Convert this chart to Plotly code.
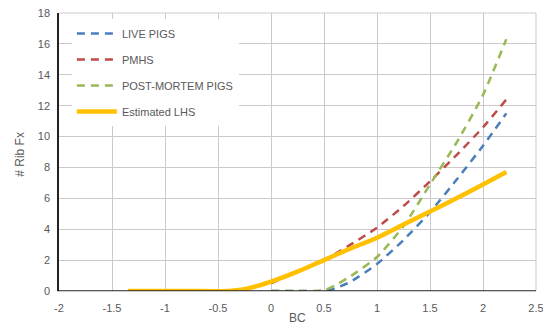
import plotly.graph_objects as go

# BC values and fracture counts
live_x = [0.0, 0.25, 0.5, 0.6, 0.75, 1.0, 1.25, 1.5, 1.75, 2.0, 2.22]
live_y = [0.0, 0.0, 0.0, 0.15, 0.6, 1.75, 3.3, 5.1, 7.2, 9.4, 11.5]

pmhs_x = [0.0, 0.2, 0.5, 0.75, 1.0, 1.25, 1.5, 1.75, 2.0, 2.22]
pmhs_y = [0.5, 1.1, 2.0, 3.0, 4.1, 5.5, 7.1, 8.8, 10.6, 12.4]

pm_x = [0.0, 0.25, 0.5, 0.6, 0.75, 1.0, 1.25, 1.5, 1.75, 2.0, 2.22]
pm_y = [0.0, 0.0, 0.05, 0.35, 0.95, 2.2, 4.2, 6.9, 9.6, 12.7, 16.3]

lhs_x = [-1.35, -0.8, -0.4, -0.25, -0.1, 0.0, 0.25, 0.5, 0.75, 1.0, 1.25, 1.5, 1.75, 2.0, 2.22]
lhs_y = [0.0, 0.0, 0.0, 0.12, 0.38, 0.6, 1.25, 2.0, 2.75, 3.45, 4.3, 5.15, 6.0, 6.9, 7.7]

x_ticks = [-2, -1.5, -1, -0.5, 0, 0.5, 1, 1.5, 2, 2.5]
x_tick_labels = ["-2", "-1.5", "-1", "-0.5", "0", "0.5", "1", "1.5", "2", "2.5"]
y_ticks = [0, 2, 4, 6, 8, 10, 12, 14, 16, 18]

names = ["LIVE PIGS", "PMHS", "POST-MORTEM PIGS", "Estimated LHS"]
colors = ["#4a7ebb", "#be4b48", "#98b954", "#ffc000"]

fig = go.Figure()
series = [(live_x, live_y), (pmhs_x, pmhs_y), (pm_x, pm_y), (lhs_x, lhs_y)]
for i, ((xs, ys), name, c) in enumerate(zip(series, names, colors)):
    dashed = i < 3
    fig.add_trace(go.Scatter(
        x=xs, y=ys, mode="lines", name=name, legendgroup=f"g{i}",
        line=dict(color=c, width=2.5 if dashed else 4.5,
                  dash="8px,6px" if dashed else "solid", shape="spline", smoothing=0.6),
    ))

font_col = "#595959"
grid_col = "#cdc8cc"
fig.update_layout(
    width=543, height=324,
    margin=dict(l=59, r=7, t=13, b=33, autoexpand=False),
    paper_bgcolor="white", plot_bgcolor="white",
    font=dict(family="Liberation Sans, Arial, sans-serif", size=11, color=font_col),
    showlegend=True,
    legend=dict(x=0.027, y=0.978, xanchor="left", yanchor="top",
                bgcolor="white", borderwidth=0, tracegroupgap=7,
                font=dict(size=11, color=font_col), itemwidth=40),
    xaxis=dict(range=[-2, 2.5], tickvals=x_ticks, ticktext=x_tick_labels,
               showgrid=True, gridcolor=grid_col, gridwidth=1, zeroline=False,
               showline=True, linecolor=grid_col, automargin=False,
               ticks="", tickfont=dict(size=11), ticklabelstandoff=7,
               ticklabeloverflow="allow"),
    yaxis=dict(range=[0, 18], tickvals=y_ticks, showgrid=True, gridcolor=grid_col,
               gridwidth=1, zeroline=False, showline=True, linecolor="#222",
               linewidth=1.5, ticks="", automargin=False,
               tickfont=dict(size=11), ticklabelstandoff=5,
               ticklabeloverflow="allow"),
    annotations=[
        dict(text="BC", xref="paper", yref="paper", x=0.5, y=0, yshift=-27,
             xanchor="center", yanchor="middle", showarrow=False,
             font=dict(size=12, color=font_col)),
        dict(text="# Rib Fx", xref="paper", yref="paper", x=0, xshift=-39, y=0.49,
             xanchor="center", yanchor="middle", textangle=-90, showarrow=False,
             font=dict(size=12, color=font_col)),
    ],
)
# black x-axis baseline at y=0 and light top/right border
fig.add_shape(type="line", xref="paper", yref="y", x0=0, x1=1, y0=0, y1=0,
              line=dict(color="#222", width=1.5), layer="above")
fig.add_shape(type="line", xref="paper", yref="paper", x0=1, x1=1, y0=0, y1=1,
              line=dict(color=grid_col, width=1), layer="below")
fig.add_shape(type="line", xref="paper", yref="paper", x0=0, x1=1, y0=1, y1=1,
              line=dict(color=grid_col, width=1), layer="below")

# remove the browser's default 8px page margin so the figure fills the window
fig.write_html("out.html", config={"displayModeBar": False},
               post_script="document.body.style.margin='0';")
